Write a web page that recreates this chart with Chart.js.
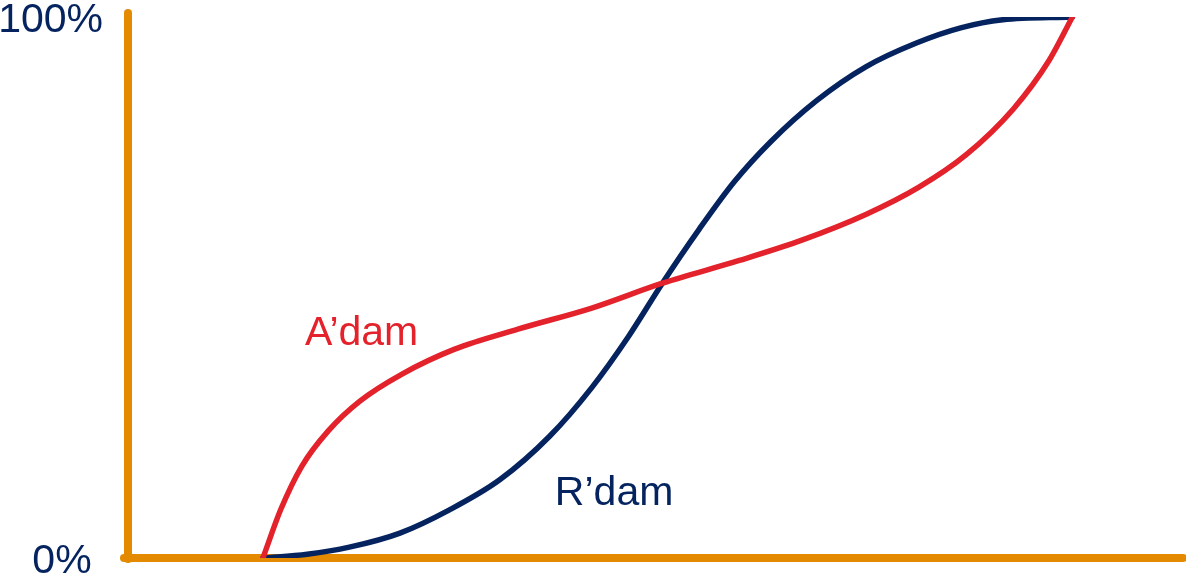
<!DOCTYPE html>
<html>
    <head>
        <meta charset="UTF-8" />
        <title>A'dam vs R'dam</title>
        <script src="https://cdn.jsdelivr.net/npm/chart.js@4.4.1/dist/chart.umd.min.js"></script>
        <style>
            body { margin: 0; background: #fff; }
            #wrap { width: 1186px; height: 581px; position: relative; }
        </style>
    </head>
    <body>
        <div id="wrap"><canvas id="curveChart"></canvas></div>
        <script>
            // x on a 0-100 scale along the horizontal axis, y in percent
            var adamX = [12.8, 14.5, 16.5, 19.0, 22.0, 26.0, 31.0, 37.0, 44.0, 50.7, 58.0, 64.0, 70.0, 75.0, 79.5, 84.0, 87.4, 89.6];
            var adamY = [0, 9.0, 17.0, 23.5, 29.0, 34.0, 38.6, 42.3, 46.2, 50.8, 55.0, 58.8, 63.5, 68.5, 74.5, 83.0, 92.0, 100];

            var rdamX = [12.8, 17.0, 21.0, 25.8, 30.5, 35.3, 40.0, 44.0, 47.5, 50.7, 54.2, 57.5, 61.0, 65.3, 70.0, 74.8, 79.0, 83.0, 89.6];
            var rdamY = [0, 0.7, 2.0, 4.6, 8.9, 14.5, 22.5, 31.5, 41.0, 50.8, 60.8, 69.5, 77.0, 84.5, 90.8, 95.2, 98.0, 99.5, 100];

            var yTicks = [0, 100];
            var seriesNames = ["A\u2019dam", "R\u2019dam"];
            var nameX = [16.8, 40.5];
            var nameY = [39.4, 9.8];

            var red = "#E3222B";
            var navy = "#05245F";
            var orange = "#E38A00";
            var font = "'Liberation Sans', Arial, sans-serif";

            function toPoints(xs, ys) {
                return xs.map(function (x, i) { return { x: x, y: ys[i] }; });
            }

            // round line ends for the axes
            var capPlugin = {
                id: 'caps',
                beforeDraw: function (chart) { chart.ctx.lineCap = 'round'; }
            };

            // series names written next to their curves
            var namePlugin = {
                id: 'names',
                afterDatasetsDraw: function (chart) {
                    var ctx = chart.ctx;
                    ctx.save();
                    ctx.font = "41px " + font;
                    ctx.textAlign = "left";
                    ctx.textBaseline = "alphabetic";
                    seriesNames.forEach(function (name, i) {
                        ctx.fillStyle = chart.data.datasets[i].borderColor;
                        ctx.fillText(name, chart.scales.x.getPixelForValue(nameX[i]), chart.scales.y.getPixelForValue(nameY[i]));
                    });
                    ctx.restore();
                }
            };

            var ctx = document.getElementById("curveChart");
            var curveChart = new Chart(ctx, {
                type: 'line',
                data: {
                    datasets: [
                        {
                            label: seriesNames[0],
                            data: toPoints(adamX, adamY),
                            borderColor: red,
                            borderWidth: 5.5,
                            borderCapStyle: 'round',
                            pointRadius: 0,
                            cubicInterpolationMode: 'monotone'
                        },
                        {
                            label: seriesNames[1],
                            data: toPoints(rdamX, rdamY),
                            borderColor: navy,
                            borderWidth: 5.5,
                            borderCapStyle: 'round',
                            pointRadius: 0,
                            cubicInterpolationMode: 'monotone'
                        }
                    ]
                },
                options: {
                    responsive: true,
                    maintainAspectRatio: false,
                    animation: false,
                    layout: { padding: { top: 17, right: 4, bottom: 23, left: 0 } },
                    plugins: {
                        legend: { display: false },
                        tooltip: { enabled: false }
                    },
                    scales: {
                        x: {
                            type: 'linear',
                            min: 0,
                            max: 100,
                            grid: { display: false, drawTicks: false },
                            ticks: { display: false },
                            border: { color: orange, width: 8 },
                            afterFit: function (s) { s.height = 0; }
                        },
                        y: {
                            min: 0,
                            max: 100,
                            afterBuildTicks: function (s) {
                                s.ticks = yTicks.map(function (v) { return { value: v }; });
                            },
                            grid: { display: false, drawTicks: false },
                            border: { color: orange, width: 8 },
                            ticks: {
                                color: navy,
                                padding: 25,
                                labelOffset: 4,
                                font: { family: font, size: 41 },
                                callback: function (v) { return v === 0 ? '0% ' : v + '%'; }
                            },
                            afterFit: function (s) {
                                s.width = 128;
                                s.paddingTop = 0;
                                s.paddingBottom = 0;
                            }
                        }
                    }
                },
                plugins: [capPlugin, namePlugin]
            });
        </script>
    </body>
</html>
